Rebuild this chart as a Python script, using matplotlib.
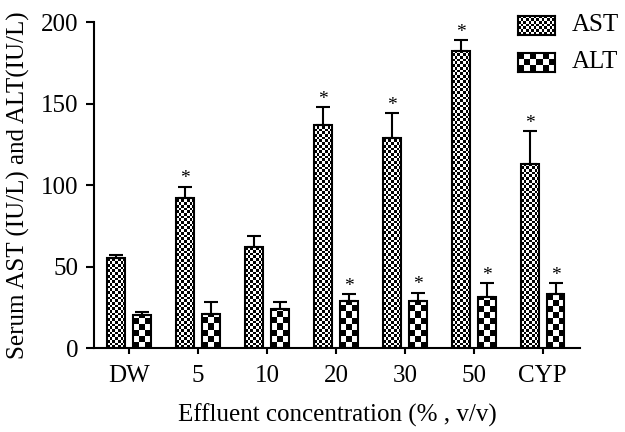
#!/usr/bin/env python3
import numpy as np
import matplotlib
matplotlib.use('Agg')
import matplotlib.pyplot as plt

plt.rcParams['font.family'] = ['Liberation Serif', 'DejaVu Serif']

# Data
groups = ['DW', '5', '10', '20', '30', '50', 'CYP']
ast_mean = [55, 92, 62, 137, 129, 182, 113]
ast_err = [2, 7, 7, 11, 15, 7, 20]
alt_mean = [20, 21, 24, 29, 29, 31, 33]
alt_err = [2, 7, 4, 4, 5, 9, 7]
ast_sig = [False, True, False, True, True, True, True]
alt_sig = [False, False, False, True, True, True, True]

fig = plt.figure(figsize=(6.25, 4.32), dpi=100)
ax = fig.add_axes([0.1504, 0.1944, 0.7776, 0.7546])

x = np.arange(len(groups))
w = 0.26
off = 0.185
xlim = (-0.51, 6.54)
ylim = (0, 200)


def checker(n_rows, n_cols):
    r, c = np.indices((n_rows, n_cols))
    return ((r + c) % 2).astype(float)


def fill_checker(ax, bar, cell_px):
    # pixel size -> data units
    p0 = ax.transData.transform((0, 0))
    p1 = ax.transData.transform((1, 1))
    cw = cell_px / (p1[0] - p0[0])
    ch = cell_px / (p1[1] - p0[1])
    x0, y0 = bar.get_x(), bar.get_y()
    bw, bh = bar.get_width(), bar.get_height()
    nx = int(np.ceil(bw / cw))
    ny = int(np.ceil(bh / ch))
    im = ax.imshow(checker(ny, nx), cmap='gray', origin='lower',
                   extent=(x0, x0 + nx * cw, y0, y0 + ny * ch),
                   interpolation='nearest', aspect='auto', zorder=1)
    im.set_clip_path(bar)


ast_bars = ax.bar(x - off, ast_mean, w, facecolor='none', edgecolor='black',
                  linewidth=1.5, zorder=2)
alt_bars = ax.bar(x + off, alt_mean, w, facecolor='none', edgecolor='black',
                  linewidth=1.5, zorder=2)
ax.set_xlim(*xlim)
ax.set_ylim(*ylim)

for b in ast_bars:
    fill_checker(ax, b, 2.7)
for b in alt_bars:
    fill_checker(ax, b, 6.0)

ax.errorbar(x - off, ast_mean, yerr=[np.zeros(len(x)), ast_err], fmt='none',
            ecolor='black', elinewidth=1.5, capsize=5, capthick=1.5, zorder=3)
ax.errorbar(x + off, alt_mean, yerr=[np.zeros(len(x)), alt_err], fmt='none',
            ecolor='black', elinewidth=1.5, capsize=5, capthick=1.5, zorder=3)

for i in range(len(groups)):
    if ast_sig[i]:
        ax.text(x[i] - off, ast_mean[i] + ast_err[i] - 0.5, '*', ha='center',
                va='bottom', fontsize=14)
    if alt_sig[i]:
        ax.text(x[i] + off, alt_mean[i] + alt_err[i] - 0.5, '*', ha='center',
                va='bottom', fontsize=14)

ax.set_xlim(*xlim)
ax.set_ylim(*ylim)
ax.set_xticks(x)
ax.set_xticklabels(groups, fontsize=18)
ax.set_yticks([0, 50, 100, 150, 200])
ax.tick_params(axis='y', labelsize=18, length=6, width=1.5, pad=5)
ax.tick_params(axis='x', length=4, width=1.5, pad=8)
for s in ['top', 'right']:
    ax.spines[s].set_visible(False)
for s in ['left', 'bottom']:
    ax.spines[s].set_linewidth(1.5)

ax.set_xlabel('Effluent concentration (% , v/v)', fontsize=18, labelpad=12)
ax.set_ylabel('Serum AST (IU/L) and ALT(IU/L)', fontsize=18, labelpad=8)

# legend swatches
for label, cell, ypos in [('AST', 2.7, 0.919), ('ALT', 6.0, 0.834)]:
    lax = fig.add_axes([0.829, ypos, 0.059, 0.044])
    nx = int(round(37 / cell))
    ny = int(round(19 / cell))
    lax.imshow(checker(ny, nx), cmap='gray', interpolation='nearest',
               aspect='auto')
    lax.set_xticks([])
    lax.set_yticks([])
    for sp in lax.spines.values():
        sp.set_linewidth(1.5)
    fig.text(0.915, ypos + 0.022, label, fontsize=18, va='center', ha='left')

fig.savefig('out.png', dpi=100)
